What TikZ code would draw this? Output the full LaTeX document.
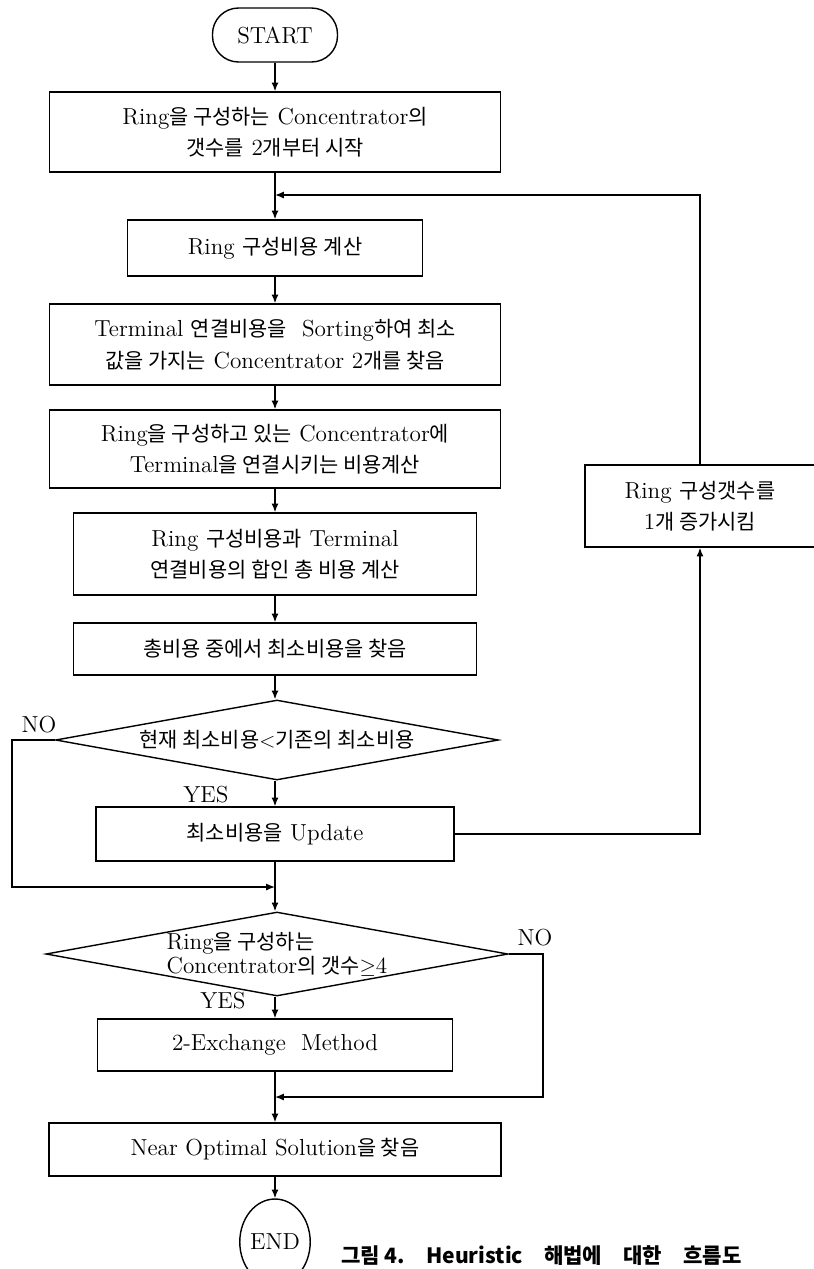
\documentclass[tikz,border=0pt]{standalone}
\usepackage{fontspec}
\usepackage{tikz}
\usetikzlibrary{positioning,arrows.meta,shapes.geometric}
\newfontfamily\kr{Noto Sans CJK KR}[Scale=0.9]
\newfontfamily\capfont{Noto Sans CJK KR}

\tikzset{
  procbox/.style={draw,line width=0.8pt,align=center,inner sep=0pt},
  decbox/.style={draw,diamond,aspect=5.5,line width=0.8pt,align=left,inner sep=0pt},
  flow/.style={line width=0.8pt,-{Latex[length=5pt,width=4pt]}},
  plain/.style={line width=0.8pt},
}

\begin{document}
\begin{tikzpicture}[x=0.02cm,y=-0.02cm,font=\fontsize{13.2}{18}\selectfont]
  \useasboundingbox (0,0) rectangle (814,1269);
  % main column
  \node[procbox,rounded corners=0.52cm,minimum width=2.5cm,minimum height=1.08cm] (start) at (275,35) {START};
  \node[procbox,minimum width=9.02cm,minimum height=1.6cm] (init) at (275,132)
    {Ring{\kr 을 구성하는} Concentrator{\kr 의}\\{\kr 갯수를} 2{\kr 개부터 시작}};
  \node[procbox,minimum width=5.9cm,minimum height=1.12cm] (ringcost) at (275,248)
    {Ring {\kr 구성비용 계산}};
  \node[procbox,minimum width=9.02cm,minimum height=1.62cm] (sorting) at (275,344.5)
    {Terminal {\kr 연결비용을}\ \ Sorting{\kr 하여 최소}\\{\kr 값을 가지는} Concentrator 2{\kr 개를 찾음}};
  \node[procbox,minimum width=9.02cm,minimum height=1.56cm] (termcost) at (275,449)
    {Ring{\kr 을 구성하고 있는} Concentrator{\kr 에}\\Terminal{\kr 을 연결시키는 비용계산}};
  \node[procbox,minimum width=8.06cm,minimum height=1.64cm] (total) at (275,554)
    {Ring {\kr 구성비용과} Terminal\\{\kr 연결비용의 합인 총 비용 계산}};
  \node[procbox,minimum width=8.06cm,minimum height=1.04cm] (findmin) at (275,649)
    {\kr 총비용 중에서 최소비용을 찾음};
  \node[decbox,minimum width=8.86cm,minimum height=1.6cm] (cmpmin) at (277,740)
    {{\kr 현재 최소비용}$<${\kr 기존의 최소비용}};
  \node[procbox,minimum width=7.16cm,minimum height=1.08cm] (update) at (275,834)
    {{\kr 최소비용을} Update};
  \node[decbox,minimum width=9cm,minimum height=1.54cm,font=\fontsize{13.2}{12.5}\selectfont] (cntchk) at (277,954)
    {Ring{\kr 을 구성하는}\\Concentrator{\kr 의 갯수}$\geq$4};
  \node[procbox,minimum width=7.1cm,minimum height=1.04cm] (exch) at (275,1045)
    {2-Exchange\ \ Method};
  \node[procbox,minimum width=9.04cm,minimum height=1.06cm] (nearopt) at (275,1149.5)
    {Near Optimal Solution{\kr 을 찾음}};
  \node[draw,ellipse,line width=0.8pt,minimum width=1.12cm,minimum height=1.72cm,inner sep=0pt] (end) at (275,1242) {END};
  % loop box
  \node[procbox,minimum width=4.6cm,minimum height=1.64cm] (incr) at (700,506)
    {Ring {\kr 구성갯수를}\\1{\kr 개 증가시킴}};

  \coordinate (back) at (275,195);
  \coordinate (noleft) at (12,887);
  \coordinate (m1) at (275,887);
  \coordinate (noright) at (543,1097);
  \coordinate (m2) at (275,1097);

  \draw[flow] (start) -- (init);
  \draw[flow] (init) -- (ringcost);
  \draw[flow] (ringcost) -- (sorting);
  \draw[flow] (sorting) -- (termcost);
  \draw[flow] (termcost) -- (total);
  \draw[flow] (total) -- (findmin);
  \draw[flow] (findmin) -- (findmin |- cmpmin.north);
  \draw[flow] (update |- cmpmin.south) -- (update);
  \draw[flow] (cmpmin.west) -| (noleft) -- (m1);
  \draw[plain] (update) -- (m1);
  \draw[flow] (m1) -- (m1 |- cntchk.north);
  \draw[flow] (update.east) -| (incr.south);
  \draw[flow] (incr.north) |- (back);
  \draw[flow] (exch |- cntchk.south) -- (exch);
  \draw[flow] (cntchk.east) -| (noright) -- (m2);
  \draw[plain] (exch) -- (m2);
  \draw[flow] (m2) -- (nearopt);
  \draw[flow] (nearopt) -- (end);

  \node (no1) at (39,725) {NO};
  \node (yes1) at (206,795) {YES};
  \node (no2) at (535,938) {NO};
  \node (yes2) at (223,1001) {YES};

  \node[anchor=base west,font=\capfont\bfseries\fontsize{12}{14}\selectfont] (caption) at (335,1263)
    {그림 4.\quad Heuristic\quad 해법에\quad 대한\quad 흐름도};
\end{tikzpicture}
\end{document}
